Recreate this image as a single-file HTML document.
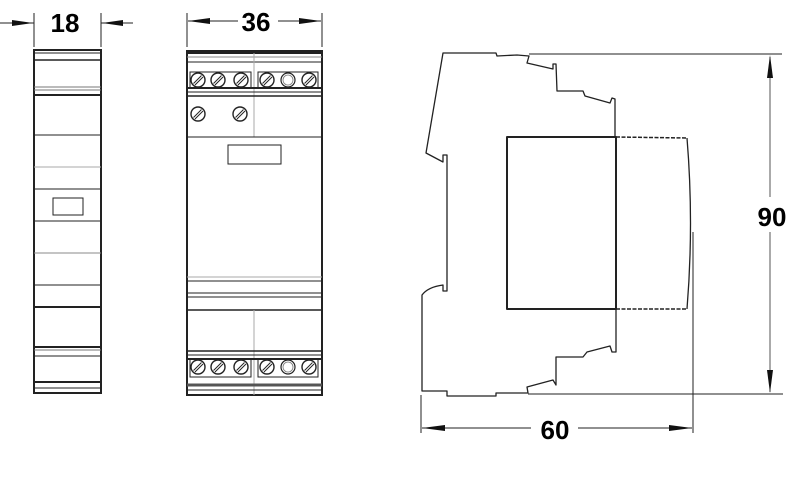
<!DOCTYPE html>
<html><head><meta charset="utf-8"><style>
html,body{margin:0;padding:0;background:#fff;}
svg{display:block}
text{font-family:"Liberation Sans",sans-serif;font-weight:bold;fill:#000}
</style></head><body>
<svg width="800" height="500" viewBox="0 0 800 500" xmlns="http://www.w3.org/2000/svg">
<defs>
<g id="sc"><circle r="7" fill="#fff" stroke="#222" stroke-width="1.4"/><line x1="-4.5" y1="3.5" x2="3.5" y2="-4.5" stroke="#222" stroke-width="1"/><line x1="-3" y1="5" x2="5" y2="-3" stroke="#222" stroke-width="1"/></g>
<g id="ring"><circle r="7" fill="#fff" stroke="#222" stroke-width="1.2"/><circle r="5" fill="none" stroke="#777" stroke-width="0.8"/></g>
</defs>
<g stroke="#222" fill="none">
<line x1="34" y1="13" x2="34" y2="47" stroke-width="1"/>
<line x1="101" y1="13" x2="101" y2="47" stroke-width="1"/>
<line x1="0" y1="23" x2="34" y2="23" stroke-width="1"/>
<line x1="101" y1="23" x2="133" y2="23" stroke-width="1"/>
</g>
<polygon points="33,23 12,20 12,26" fill="#111"/>
<polygon points="102,23 123,20 123,26" fill="#111"/>
<text x="65" y="32" font-size="26" text-anchor="middle">18</text>

<g stroke="#222" fill="none">
<rect x="34" y="50" width="67" height="343" stroke-width="2"/>
<line x1="34" y1="53" x2="101" y2="53" stroke-width="1"/>
<line x1="34" y1="60" x2="101" y2="60" stroke-width="1.5"/>
<line x1="34" y1="87" x2="101" y2="87" stroke="#777" stroke-width="1"/>
<line x1="34" y1="90" x2="101" y2="90" stroke="#777" stroke-width="1"/>
<line x1="34" y1="95" x2="101" y2="95" stroke-width="2"/>
<line x1="34" y1="135" x2="101" y2="135" stroke-width="1"/>
<line x1="34" y1="167" x2="101" y2="167" stroke="#aaa" stroke-width="1"/>
<line x1="34" y1="189" x2="101" y2="189" stroke-width="1"/>
<rect x="53" y="198" width="30" height="17" stroke-width="1"/>
<line x1="34" y1="221" x2="101" y2="221" stroke-width="1"/>
<line x1="34" y1="253" x2="101" y2="253" stroke="#888" stroke-width="1"/>
<line x1="34" y1="285" x2="101" y2="285" stroke-width="1"/>
<line x1="34" y1="307" x2="101" y2="307" stroke-width="2"/>
<line x1="34" y1="347" x2="101" y2="347" stroke-width="2"/>
<line x1="34" y1="350" x2="101" y2="350" stroke="#777" stroke-width="1"/>
<line x1="34" y1="356" x2="101" y2="356" stroke-width="1"/>
<line x1="34" y1="382" x2="101" y2="382" stroke-width="2"/>
<line x1="34" y1="388" x2="101" y2="388" stroke-width="1"/>
</g>

<g stroke="#222" fill="none" stroke-width="1">
<line x1="187" y1="13" x2="187" y2="47"/>
<line x1="322" y1="13" x2="322" y2="47"/>
<line x1="188" y1="21" x2="238" y2="21"/>
<line x1="278" y1="21" x2="321" y2="21"/>
</g>
<polygon points="188,21 210,18 210,24" fill="#111"/>
<polygon points="321,21 299,18 299,24" fill="#111"/>
<text x="256" y="31" font-size="26" text-anchor="middle">36</text>

<g stroke="#222" fill="none">
<rect x="187" y="51" width="135" height="344" stroke-width="2"/>
<line x1="187" y1="53" x2="322" y2="53" stroke-width="2"/>
<line x1="187" y1="57" x2="322" y2="57" stroke="#888" stroke-width="1"/>
<line x1="187" y1="62" x2="322" y2="62" stroke-width="1"/>
<line x1="254" y1="53" x2="254" y2="137" stroke="#aaa" stroke-width="1"/>
<rect x="190" y="72" width="61" height="16" stroke-width="1"/>
<rect x="258" y="72" width="60" height="16" stroke-width="1"/>
<line x1="187" y1="88" x2="322" y2="88" stroke-width="2"/>
<line x1="187" y1="92" x2="322" y2="92" stroke-width="1"/>
<line x1="187" y1="96" x2="322" y2="96" stroke-width="1.5"/>
<line x1="187" y1="137" x2="322" y2="137" stroke-width="1"/>
<rect x="228" y="145" width="53" height="19" stroke-width="1"/>
<line x1="187" y1="277" x2="322" y2="277" stroke="#aaa" stroke-width="1"/>
<line x1="187" y1="281" x2="322" y2="281" stroke-width="1"/>
<line x1="187" y1="293" x2="322" y2="293" stroke-width="1"/>
<line x1="187" y1="297" x2="322" y2="297" stroke-width="1"/>
<line x1="187" y1="310" x2="322" y2="310" stroke-width="1.5"/>
<line x1="254" y1="310" x2="254" y2="395" stroke="#aaa" stroke-width="1"/>
<line x1="187" y1="351" x2="322" y2="351" stroke-width="1.5"/>
<line x1="187" y1="355" x2="322" y2="355" stroke-width="1"/>
<line x1="187" y1="359" x2="322" y2="359" stroke-width="2"/>
<rect x="190" y="359" width="61" height="18" stroke-width="1"/>
<rect x="258" y="359" width="60" height="18" stroke-width="1"/>
<line x1="187" y1="385" x2="322" y2="385" stroke="#555" stroke-width="3"/>
<line x1="187" y1="390" x2="322" y2="390" stroke-width="1"/>
</g>
<use href="#sc" x="198" y="80"/><use href="#sc" x="218" y="80"/><use href="#sc" x="241" y="80"/>
<use href="#sc" x="267" y="80"/><use href="#ring" x="288" y="80"/><use href="#sc" x="309" y="80"/>
<use href="#sc" x="198" y="114"/><use href="#sc" x="240" y="114"/>
<use href="#sc" x="198" y="367"/><use href="#sc" x="218" y="367"/><use href="#sc" x="241" y="367"/>
<use href="#sc" x="267" y="367"/><use href="#ring" x="288" y="367"/><use href="#sc" x="309" y="367"/>

<g stroke="#222" fill="none" stroke-width="1.3" stroke-linejoin="round">
<path d="M615,137 L615,99 612,98 610,103 585,96 583,91 557,91 556,64 553,64 553,69 527,63 529,56 517,55 497,56 496,53 443,53 426,153 443,162 443,155 447,155 447,291 443,291 443,285 Q428,287 422,295 L422,391 447,391 447,396 496,396 496,393 528,393 527,387 553,380 556,385 556,357 583,357 587,352 610,346 612,352 616,352 616,309"/>
<rect x="507" y="137" width="109" height="172" stroke-width="2"/>
<path d="M687,138 Q694,223 687,309" stroke-width="1.3"/>
<path d="M616,137 L687,138 M616,309 L687,309" stroke-width="1.5" stroke-dasharray="4,1.5"/>
<line x1="529" y1="54" x2="782" y2="54" stroke-width="1"/>
<line x1="528" y1="394" x2="783" y2="394" stroke-width="1"/>
<line x1="693" y1="232" x2="693" y2="433" stroke-width="1"/>
<line x1="421" y1="395" x2="421" y2="433" stroke-width="1"/>
<line x1="770" y1="57" x2="770" y2="197" stroke="#555" stroke-width="1"/>
<line x1="770" y1="232" x2="770" y2="392" stroke="#555" stroke-width="1"/>
<line x1="422" y1="428" x2="531" y2="428" stroke-width="1"/>
<line x1="578" y1="428" x2="692" y2="428" stroke-width="1"/>
</g>
<polygon points="770,55 767,78 773,78" fill="#111"/>
<polygon points="770,393 767,370 773,370" fill="#111"/>
<polygon points="422,428 445,425 445,431" fill="#111"/>
<polygon points="692,428 669,425 669,431" fill="#111"/>
<text x="772" y="226" font-size="26" text-anchor="middle">90</text>
<text x="555" y="439" font-size="26" text-anchor="middle">60</text>
</svg>
</body></html>
